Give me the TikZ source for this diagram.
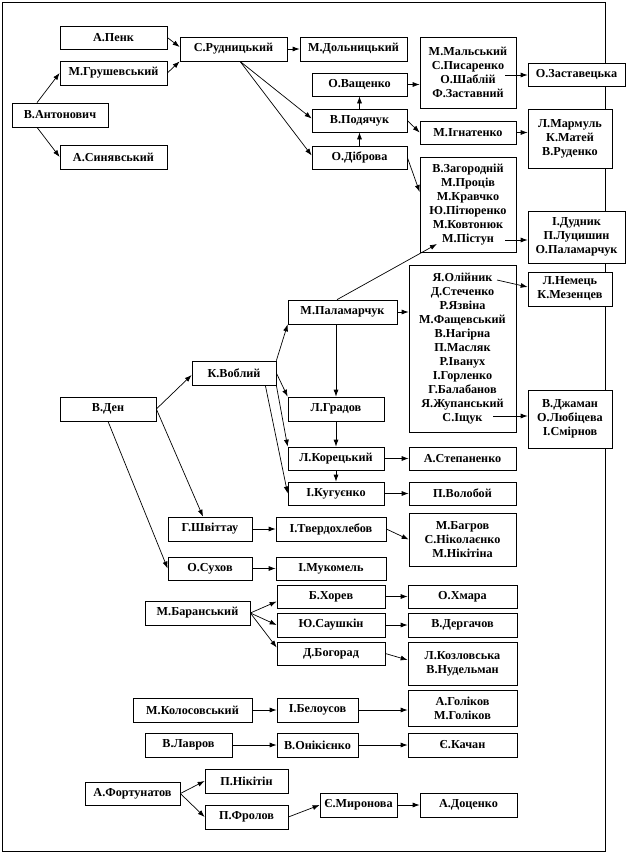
\documentclass[tikz,border=0pt]{standalone}
\usepackage{fontspec}
\setmainfont{Liberation Serif}
\usetikzlibrary{arrows.meta}

\begin{document}
\begin{tikzpicture}[x=1pt,y=-1pt,
    >={Latex[length=7pt,width=5pt]},
    line width=0.7pt,
    box/.style={draw, fill=white, align=center, inner sep=0pt,
        font=\bfseries\fontsize{12.2}{14}\selectfont}]
    \useasboundingbox (0,0) rectangle (628,854);

    % 外框
    \draw (2,2) rectangle (605,851);

    % 上部: В.Антонович 学派
    \node[box, minimum width=107, minimum height=23] (penk) at (113.5,37.5) {А.Пенк};
    \node[box, minimum width=107, minimum height=24] (grush) at (113.5,73) {М.Грушевський};
    \node[box, minimum width=96, minimum height=24] (anton) at (60,115) {В.Антонович};
    \node[box, minimum width=107, minimum height=24] (synyav) at (113.5,157) {А.Синявський};
    \node[box, minimum width=107, minimum height=24] (rudn) at (233.5,49) {С.Рудницький};
    \node[box, minimum width=107, minimum height=24] (dolzh) at (353.5,49) {М.Дольницький};
    \node[box, minimum width=96, minimum height=71] (malsk) at (468,72.5)
        {М.Мальський\\С.Писаренко\\О.Шаблій\\Ф.Заставний};
    \node[box, minimum width=97, minimum height=23] (zastav) at (576.5,74.5) {О.Заставецька};
    \node[box, minimum width=95, minimum height=23] (vasch) at (359.5,84.5) {О.Ващенко};
    \node[box, minimum width=95, minimum height=23] (podyach) at (359.5,120.5) {В.Подячук};
    \node[box, minimum width=96, minimum height=23] (ihnat) at (468,132.5) {М.Ігнатенко};
    \node[box, minimum width=84, minimum height=59] (marmul) at (570,138.5)
        {Л.Мармуль\\К.Матей\\В.Руденко};
    \node[box, minimum width=95, minimum height=23] (dibr) at (359.5,157.5) {О.Діброва};
    \node[box, minimum width=96, minimum height=95] (zahor) at (468,204.5)
        {В.Загородній\\М.Проців\\М.Кравчко\\Ю.Пітюренко\\М.Ковтонюк\\М.Пістун};
    \node[box, minimum width=97, minimum height=52] (dudnyk) at (576.5,237)
        {І.Дудник\\П.Луцишин\\О.Паламарчук};

    % 上部连线
    \draw[->] ([xshift=-23]anton.north) -- (grush.west);
    \draw[->] ([xshift=-23]anton.south) -- (synyav.west);
    \draw[->] (penk.east) -- ([yshift=2]rudn.west);
    \draw[->] (grush.east) -- (rudn.south west);
    \draw[->] (rudn.east) -- (dolzh.west);
    \draw[->] ([xshift=6.5]rudn.south) -- ([yshift=2]podyach.west);
    \draw[->] ([xshift=6.5]rudn.south) -- ([yshift=2]dibr.west);
    \draw[->] (podyach.north) -- (vasch.south);
    \draw[->] (dibr.north) -- (podyach.south);
    \draw[->] (vasch.east) -- (vasch.east -| malsk.west);
    \coordinate (shabliy) at (505,75);
    \draw[->] (shabliy) -- (shabliy -| zastav.west);
    \draw[->] (podyach.east) -- (ihnat.west);
    \draw[->] (ihnat.east) -- (ihnat.east -| marmul.west);
    \draw[->] (dibr.east) -- ([yshift=12.5]zahor.west);
    \coordinate (pistun) at (505,240);
    \draw[->] (pistun) -- (pistun -| dudnyk.west);

    % 中部: В.Ден 学派
    \node[box, minimum width=109, minimum height=24] (palam) at (342.5,312) {М.Паламарчук};
    \node[box, minimum width=107, minimum height=167] (oliyn) at (462.5,348.5)
        {Я.Олійник\\Д.Стеченко\\Р.Язвіна\\М.Фащевський\\В.Нагірна\\П.Масляк\\Р.Іванух\\І.Горленко\\Г.Балабанов\\Я.Жупанський\\С.Іщук};
    \node[box, minimum width=84, minimum height=34] (nemets) at (570,289)
        {Л.Немець\\К.Мезенцев};
    \node[box, minimum width=84, minimum height=58] (dzhaman) at (570,419)
        {В.Джаман\\О.Любіцева\\І.Смірнов};
    \node[box, minimum width=84, minimum height=24] (voblyi) at (234,373) {К.Воблий};
    \node[box, minimum width=96, minimum height=24] (den) at (108,409) {В.Ден};
    \node[box, minimum width=96, minimum height=24] (hradov) at (336,409) {Л.Градов};
    \node[box, minimum width=96, minimum height=23] (korets) at (336,458.5) {Л.Корецький};
    \node[box, minimum width=107, minimum height=23] (stepan) at (462.5,458.5) {А.Степаненко};
    \node[box, minimum width=96, minimum height=23] (kuhu) at (336,493.5) {І.Кугуєнко};
    \node[box, minimum width=107, minimum height=23] (volob) at (462.5,493.5) {П.Волобой};
    \node[box, minimum width=84, minimum height=24] (shvit) at (210,529) {Г.Швіттау};
    \node[box, minimum width=110, minimum height=24] (tverd) at (331,529) {І.Твердохлебов};
    \node[box, minimum width=107, minimum height=53] (bahrov) at (462.5,539.5)
        {М.Багров\\С.Ніколаєнко\\М.Нікітіна};
    \node[box, minimum width=84, minimum height=23] (sukhov) at (210,568.5) {О.Сухов};
    \node[box, minimum width=110, minimum height=23] (mukom) at (331,568.5) {І.Мукомель};

    % 中部连线
    \coordinate (pistunL) at (437,244);
    \draw[->] ([xshift=-5.5]palam.north) -- (pistunL);
    \draw[->] (palam.east) -- (palam.east -| oliyn.west);
    \draw[->] (hradov.north |- palam.south) -- (hradov.north);
    \coordinate (oliynR) at (497,280);
    \draw[->] (oliynR) -- ([yshift=2]nemets.west);
    \coordinate (ishchuk) at (493,416);
    \draw[->] (ishchuk) -- (ishchuk -| dzhaman.west);
    \draw[->] (den.east) -- ([yshift=-2]voblyi.west);
    \draw[->] (den.east) -- ([xshift=-7]shvit.north);
    \draw[->] (den.south) -- (sukhov.west);
    \draw[->] (voblyi.north east) -- (palam.south west);
    \draw[->] (voblyi.east) -- (hradov.north west);
    \draw[->] (voblyi.south east) -- (korets.north west);
    \draw[->] ([xshift=-11]voblyi.south east) -- (kuhu.west);
    \draw[->] (hradov.south) -- (korets.north);
    \draw[->] (korets.south) -- (kuhu.north);
    \draw[->] (korets.east) -- (stepan.west);
    \draw[->] (kuhu.east) -- (volob.west);
    \draw[->] (shvit.east) -- (tverd.west);
    \draw[->] (tverd.east) -- (bahrov.west);
    \draw[->] (sukhov.east) -- (mukom.west);

    % 下部: М.Баранський 等
    \node[box, minimum width=105, minimum height=24] (baran) at (197.5,613) {М.Баранський};
    \node[box, minimum width=108, minimum height=23] (khorev) at (331,596.5) {Б.Хорев};
    \node[box, minimum width=108, minimum height=24] (saush) at (331,625) {Ю.Саушкін};
    \node[box, minimum width=108, minimum height=23] (bohor) at (331,653.5) {Д.Богорад};
    \node[box, minimum width=109, minimum height=23] (khmara) at (462.5,596.5) {О.Хмара};
    \node[box, minimum width=109, minimum height=24] (derh) at (462.5,625) {В.Дергачов};
    \node[box, minimum width=109, minimum height=43] (kozlov) at (462.5,663.5)
        {Л.Козловська\\В.Нудельман};
    \node[box, minimum width=119, minimum height=24] (kolos) at (192.5,710) {М.Колосовський};
    \node[box, minimum width=81, minimum height=24] (belous) at (317.5,710) {І.Белоусов};
    \node[box, minimum width=109, minimum height=36] (holik) at (462.5,708)
        {А.Голіков\\М.Голіков};
    \node[box, minimum width=87, minimum height=24] (lavrov) at (188.5,745) {В.Лавров};
    \node[box, minimum width=81, minimum height=24] (onik) at (317.5,745) {В.Онікієнко};
    \node[box, minimum width=109, minimum height=24] (kachan) at (462.5,745) {Є.Качан};
    \node[box, minimum width=95, minimum height=23] (fortun) at (132.5,793.5) {А.Фортунатов};
    \node[box, minimum width=83, minimum height=24] (nikit) at (246.5,781) {П.Нікітін};
    \node[box, minimum width=83, minimum height=24] (frolov) at (246.5,817) {П.Фролов};
    \node[box, minimum width=77, minimum height=24] (myron) at (358.5,805) {Є.Миронова};
    \node[box, minimum width=97, minimum height=24] (dots) at (468.5,805) {А.Доценко};

    % 下部连线
    \draw[->] (baran.east) -- ([yshift=-5]khorev.west);
    \draw[->] (baran.east) -- (saush.west);
    \draw[->] (baran.east) -- ([yshift=6]bohor.west);
    \draw[->] (khorev.east) -- (khmara.west);
    \draw[->] (saush.east) -- (derh.west);
    \draw[->] (bohor.east) -- ([yshift=3.5]kozlov.west);
    \draw[->] (kolos.east) -- (belous.west);
    \draw[->] (belous.east) -- (belous.east -| holik.west);
    \draw[->] (lavrov.east) -- (onik.west);
    \draw[->] (onik.east) -- (kachan.west);
    \draw[->] (fortun.east) -- (nikit.west);
    \draw[->] (fortun.east) -- (frolov.west);
    \draw[->] (frolov.east) -- (myron.west);
    \draw[->] (myron.east) -- (dots.west);

\end{tikzpicture}
\end{document}
